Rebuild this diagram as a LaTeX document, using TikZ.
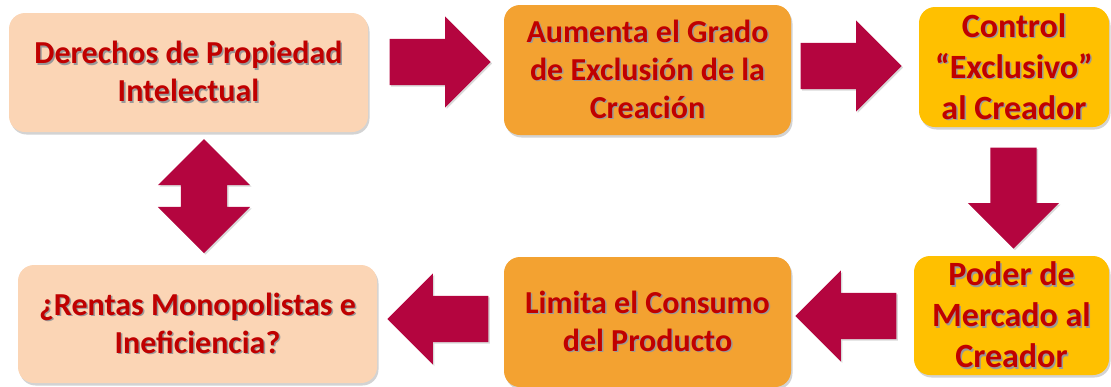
\documentclass[tikz,border=0pt]{standalone}
\usepackage{fontspec}
\setmainfont{Carlito}
\usepackage{xcolor}
\usepackage{tikz}
\usetikzlibrary{positioning,%
  shapes.arrows,%
  shadows
}
\definecolor{peach}{HTML}{FBD5B5}
\definecolor{amber}{HTML}{F3A231}
\definecolor{yolk}{HTML}{FFC000}
\definecolor{crimson}{HTML}{B4053F}
\definecolor{txtred}{HTML}{C00000}
\newcommand{\shtext}[1]{\makebox[0pt][l]{\hspace{1.5pt}\raisebox{-1.5pt}{\textcolor{black!40}{#1}}}#1}

\begin{document}
\begin{tikzpicture}
                    [x=1pt, y=-1pt,
                    box/.style={rectangle,
                        rounded corners=16pt,
                        align=center, text=txtred,
                        font=\bfseries\fontsize{32}{38}\selectfont,
                        drop shadow={opacity=.35,
                            shadow xshift=1.5pt, shadow yshift=-2.5pt}},
                    lightbox/.style={box, fill=peach},
                    midbox/.style={box, fill=amber},
                    hibox/.style={box, fill=yolk,
                        font=\bfseries\fontsize{34}{41}\selectfont},
                    blk/.style={single arrow,
                        single arrow head extend=22.5pt,
                        minimum height=101pt, anchor=tip,
                        inner xsep=0pt, inner ysep=23pt, fill=crimson,
                        drop shadow={opacity=.3,
                            shadow xshift=1.5pt, shadow yshift=-1.5pt}},
                    dblk/.style={double arrow,
                        double arrow head extend=23pt,
                        minimum height=114pt,
                        inner xsep=0pt, inner ysep=23pt, fill=crimson,
                        drop shadow={opacity=.3,
                            shadow xshift=1.5pt, shadow yshift=-1.5pt}}]

                    \useasboundingbox (0,0) rectangle (1111,386);

                    % upper row
                    \node[lightbox, minimum width=359, minimum height=119] at (188.5,72.5)
                        (derechos) {\shtext{Derechos de Propiedad}\\\shtext{Intelectual}};
                    \node[midbox, minimum width=287, minimum height=130] at (647.5,70)
                        (aumenta) {\shtext{Aumenta el Grado}\\\shtext{de Exclusión de la}\\\shtext{Creación}};
                    \node[hibox, minimum width=190, minimum height=120] at (1014,67)
                        (control) {\shtext{Control}\\\shtext{“Exclusivo”}\\\shtext{al Creador}};

                    % lower row
                    \node[hibox, minimum width=195, minimum height=119] at (1011.5,315.5)
                        (poder) {\shtext{Poder de}\\\shtext{Mercado al}\\\shtext{Creador}};
                    \node[midbox, minimum width=287, minimum height=130] at (647.5,322)
                        (limita) {\shtext{Limita el Consumo}\\\shtext{del Producto}};
                    \node[lightbox, minimum width=359, minimum height=118] at (197.5,324)
                        (rentas) {\shtext{¿Rentas Monopolistas e}\\\shtext{Ineficiencia?}};

                    % block arrows (placed by their tips)
                    \node[blk] at (491,62) (toaumenta) {};
                    \node[blk] at (902,66) (tocontrol) {};
                    \node[blk, rotate=-90] at (1013.5,249) (topoder) {};
                    \node[blk, rotate=180] at (795,316) (tolimita) {};
                    \node[blk, rotate=180] at (387,319) (torentas) {};
                    \node[dblk, rotate=90] at (204,196) (between) {};
                \end{tikzpicture}
\end{document}
